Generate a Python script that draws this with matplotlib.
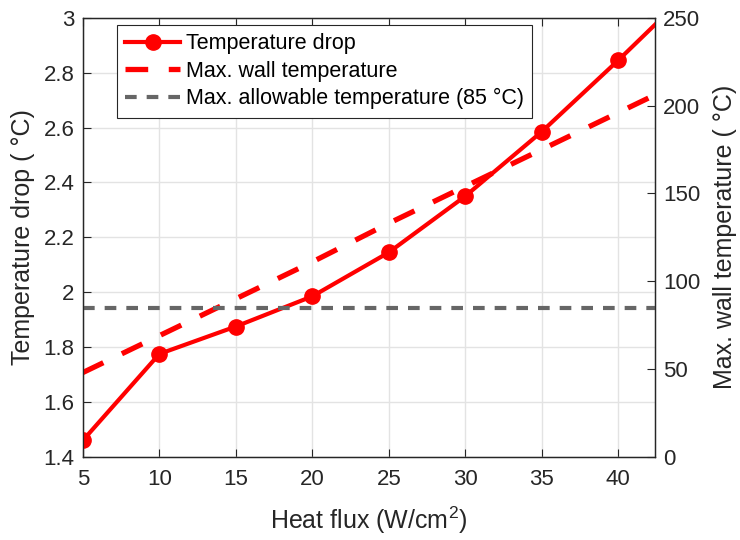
import matplotlib
matplotlib.use("Agg")
import matplotlib.pyplot as plt

plt.rcParams['font.family'] = ['Liberation Sans', 'DejaVu Sans']
plt.rcParams['mathtext.fontset'] = 'custom'
plt.rcParams['mathtext.rm'] = 'Liberation Sans'

# Data
heat_flux = [5, 10, 15, 20, 25, 30, 35, 40, 45]
temp_drop = [1.46, 1.775, 1.875, 1.985, 2.145, 2.35, 2.585, 2.845, 3.115]
max_wall_temp = [48, 69, 90, 111, 133, 154, 175, 196, 217]
allowable_temp = 85

x_ticks = [5, 10, 15, 20, 25, 30, 35, 40]
left_ticks = [1.4, 1.6, 1.8, 2.0, 2.2, 2.4, 2.6, 2.8, 3.0]
left_labels = ['1.4', '1.6', '1.8', '2', '2.2', '2.4', '2.6', '2.8', '3']
right_ticks = [0, 50, 100, 150, 200, 250]

fig = plt.figure(figsize=(7.4, 5.4), dpi=100)
ax = fig.add_axes([0.112, 0.154, 0.773, 0.813])
ax2 = ax.twinx()

red = '#ff0000'
gray = '#666666'
ink = '#262626'

l1, = ax.plot(heat_flux, temp_drop, color=red, lw=3, marker='o', ms=11,
              label='Temperature drop', zorder=3)
l2, = ax2.plot(heat_flux, max_wall_temp, color=red, lw=3.8, ls=(0, (4.3, 3.9)),
               label='Max. wall temperature')
l3 = ax2.axhline(allowable_temp, color=gray, lw=3, ls=(0, (2.8, 2.4)),
                 label='Max. allowable temperature (85 °C)')

ax.set_xlim(5, 42.4)
ax.set_ylim(1.4, 3.0)
ax2.set_ylim(0, 250)
ax.set_xticks(x_ticks)
ax.set_yticks(left_ticks)
ax.set_yticklabels(left_labels)
ax2.set_yticks(right_ticks)

ax.grid(True, color='#e3e3e3', lw=1.0)
ax.set_axisbelow(True)

for a in (ax, ax2):
    a.tick_params(direction='in', labelsize=16, length=6, width=0.8,
                  colors=ink, labelcolor=ink, top=True, pad=6)
    for s in a.spines.values():
        s.set_color(ink)
        s.set_linewidth(0.9)
ax.tick_params(axis='x', pad=9)

ax.set_xlabel('Heat flux (W/cm$^{2}$)', fontsize=18, color=ink, labelpad=10)
ax.set_ylabel('Temperature drop ( °C)', fontsize=18, color=ink, labelpad=6)
ax2.set_ylabel('Max. wall temperature ( °C)', fontsize=18, color=ink,
               labelpad=9)

leg = ax.legend(handles=[l1, l2, l3], loc='upper left',
                bbox_to_anchor=(0.059, 0.984), fontsize=15.5, frameon=True,
                fancybox=False, edgecolor=ink, framealpha=1,
                handlelength=2.55, borderpad=0.4, labelspacing=0.3,
                handletextpad=0.25, borderaxespad=0)
leg.get_frame().set_linewidth(0.8)
leg.set_zorder(10)

fig.savefig('out.png', dpi=100)
